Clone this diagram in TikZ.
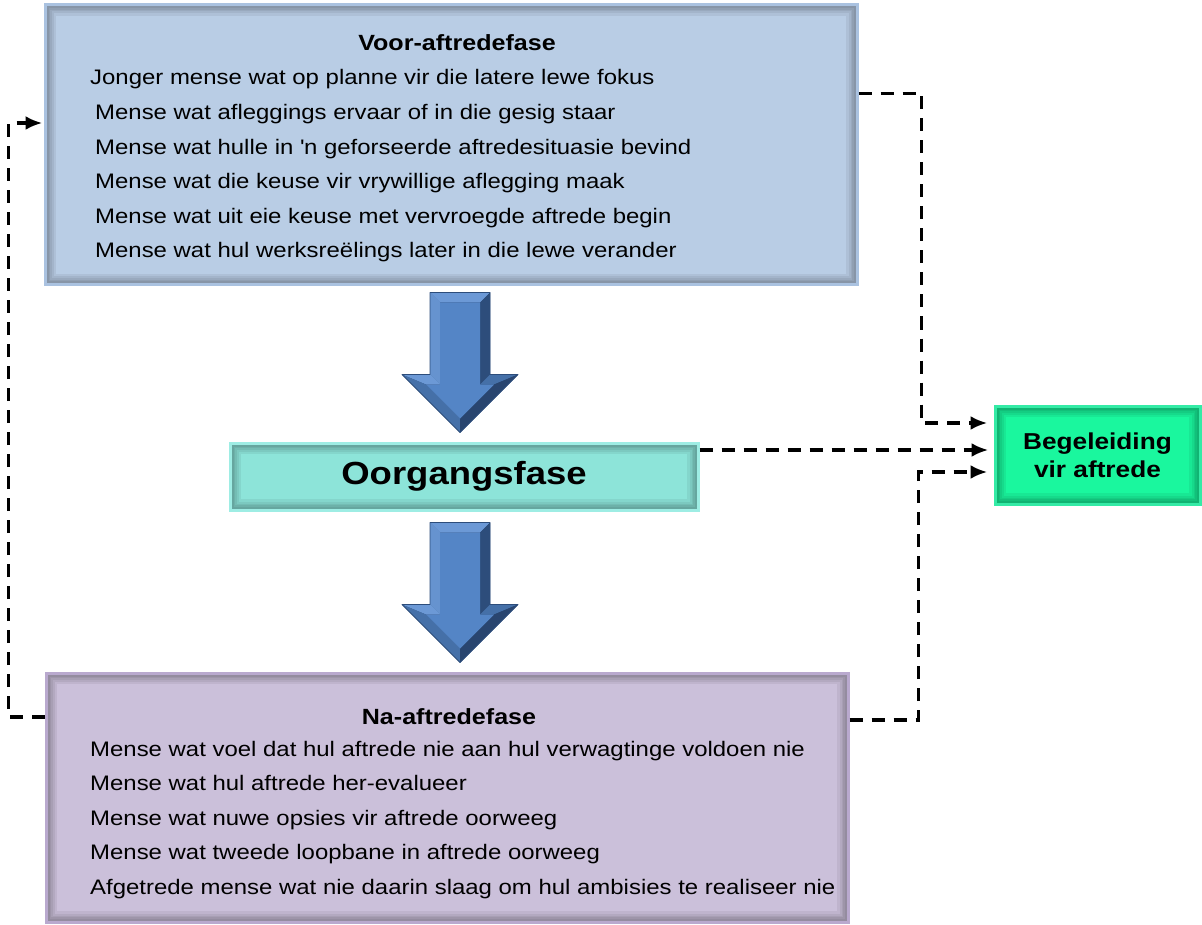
\documentclass[tikz,border=0pt]{standalone}
\usepackage{fontspec}
\setmainfont{Liberation Sans}[FakeStretch=1.14]
\usetikzlibrary{positioning,calc,arrows.meta}

\definecolor{voorfill}{HTML}{B9CDE5}
\definecolor{voorline}{HTML}{AAC2E0}
\definecolor{oorfill}{HTML}{8DE4D9}
\definecolor{oorline}{HTML}{9EEDE4}
\definecolor{nafill}{HTML}{CBC0DA}
\definecolor{naline}{HTML}{B9A9CE}
\definecolor{begfill}{HTML}{1AF79E}
\definecolor{begline}{HTML}{34EBA6}
\definecolor{arrface}{HTML}{5485C6}
\definecolor{arrlight}{HTML}{6C99D6}
\definecolor{arrmid}{HTML}{4570A8}
\definecolor{arrdark}{HTML}{2D4D7B}

\begin{document}
\begin{tikzpicture}[x=1pt,y=-1pt,
  phase/.style={draw=#1line,fill=#1fill,line width=3pt,inner sep=0pt,
    path picture={
      \foreach \w in {22,17,13,10,7}
        \draw[black,opacity=.06,line width=\w pt] (path picture bounding box.south west) rectangle (path picture bounding box.north east);
    }},
  bodytext/.style={inner sep=0pt,font=\fontsize{21}{25}\selectfont},
  headtext/.style={inner sep=0pt,font=\fontsize{22}{26}\selectfont\bfseries},
  link/.style={line width=3.5pt,dash pattern=on 13pt off 9pt,-{Latex[length=17pt,width=14pt]}}
]
\useasboundingbox (0,0) rectangle (1202,925);

% phase boxes
\node[phase=voor,minimum width=812pt,minimum height=280pt] (voor) at (451,145) {};
\node[phase=oor,minimum width=468pt,minimum height=67pt,font=\fontsize{32}{36}\selectfont\bfseries] (oor) at (464,476.5) {Oorgangsfase};
\node[phase=na,minimum width=802pt,minimum height=249pt] (na) at (447,797.5) {};
\node[phase=beg,minimum width=205pt,minimum height=98pt,align=center,font=\fontsize{23}{28}\selectfont\bfseries] (beg) at (1097.5,455) {Begeleiding\\vir aftrede};

% texts
\node[headtext,anchor=base] (voortitle) at (457,51) {Voor-aftredefase};
\foreach \txt [count=\i] in {Jonger mense wat op planne vir die latere lewe fokus,
    Mense wat afleggings ervaar of in die gesig staar,
    Mense wat hulle in \textquotesingle n geforseerde aftredesituasie bevind,
    Mense wat die keuse vir vrywillige aflegging maak,
    Mense wat uit eie keuse met vervroegde aftrede begin,
    Mense wat hul werksreëlings later in die lewe verander}
  \node[bodytext,anchor=base west] (voorline\i) at ({ifthenelse(\i==1,90,95)},{85+34.6*(\i-1)}) {\txt};

\node[headtext,anchor=base] (natitle) at (449,724) {Na-aftredefase};
\foreach \txt [count=\i] in {Mense wat voel dat hul aftrede nie aan hul verwagtinge voldoen nie,
    Mense wat hul aftrede her-evalueer,
    Mense wat nuwe opsies vir aftrede oorweeg,
    Mense wat tweede loopbane in aftrede oorweeg,
    Afgetrede mense wat nie daarin slaag om hul ambisies te realiseer nie}
  \node[bodytext,anchor=base west] (naline\i) at (90,{756+34.6*(\i-1)}) {\txt};

% bevelled block arrows
\foreach \ay in {362.5,592.5}{
  \begin{scope}[shift={(460,\ay)}]
    \fill[arrdark] (-30,-70) -- (30,-70) -- (30,12) -- (58,12) -- (0,70) -- (-58,12) -- (-30,12) -- cycle;
    \fill[arrlight] (-30,-70) -- (30,-70) -- (20,-60) -- (-20,-60) -- cycle;
    \fill[arrlight!85!arrmid] (-30,-70) -- (-20,-60) -- (-20,22) -- (-30,12) -- cycle;
    \fill[arrdark] (30,-70) -- (20,-60) -- (20,22) -- (30,12) -- cycle;
    \fill[arrlight] (-30,12) -- (-58,12) -- (-34,22) -- (-20,22) -- cycle;
    \fill[arrmid] (30,12) -- (58,12) -- (34,22) -- (20,22) -- cycle;
    \fill[arrmid] (-58,12) -- (0,70) -- (0,56) -- (-34,22) -- cycle;
    \fill[arrdark!90!black] (58,12) -- (0,70) -- (0,56) -- (34,22) -- cycle;
    \fill[arrface] (-20,-60) -- (20,-60) -- (20,22) -- (34,22) -- (0,56) -- (-34,22) -- (-20,22) -- cycle;
    \draw[arrdark,line width=0.8pt,line join=round] (-30,-70) -- (30,-70) -- (30,12) -- (58,12) -- (0,70) -- (-58,12) -- (-30,12) -- cycle;
  \end{scope}
}

% dashed links
\draw[link] ([yshift=-90pt]voor.north east) -- ++(63,0) |- ([xshift=-6pt,yshift=32pt]beg.west);
\draw[link] ([yshift=26.5pt]oor.east) -- ([xshift=-5pt,yshift=5pt]beg.west);
\draw[link] ([yshift=77.5pt]na.east) -- ++(69,0) |- ([xshift=-6pt,yshift=-17pt]beg.west);
\draw[link] ([yshift=80.5pt]na.west) -- ++(-36,0) |- ([xshift=-1pt,yshift=22pt]voor.west);
\end{tikzpicture}
\end{document}
